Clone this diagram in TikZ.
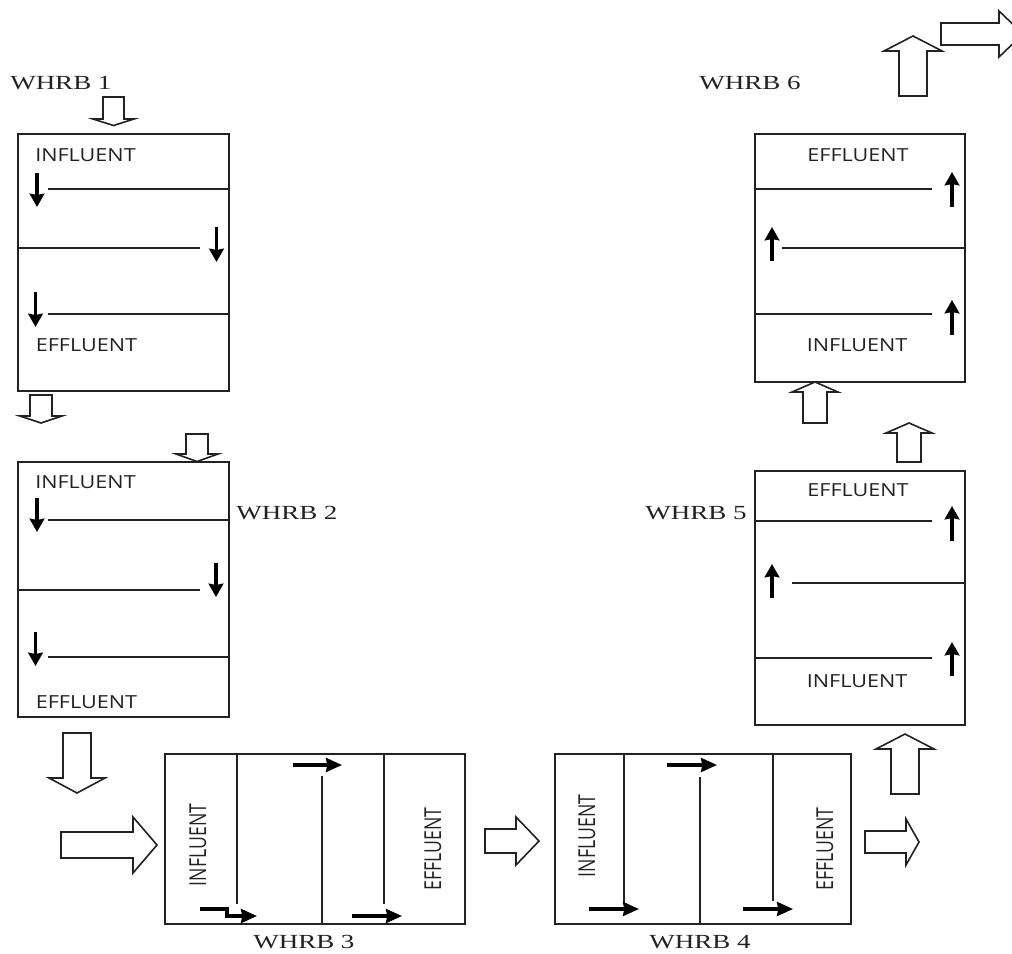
\documentclass[tikz,border=0pt]{standalone}
\usepackage{fontspec}
\setmainfont{Liberation Serif}
\newfontfamily\labfont[FakeStretch=1.2]{Open Sans}
\newfontfamily\rotfont[FakeStretch=0.76]{Open Sans}
\newfontfamily\whrbfont[FakeStretch=1.35]{Liberation Serif}
\usetikzlibrary{arrows.meta}
\definecolor{ink}{HTML}{222222}
\tikzset{
  x=0.75pt,y=-0.75pt,
  wall/.style={draw=ink,line width=1.2pt},
  baffle/.style={draw=ink,line width=1.2pt},
  flowv/.style={draw=black,line width=2.6pt,-{Stealth[length=10pt,width=11pt,inset=1pt]}},
  flowh/.style={draw=black,line width=2.4pt,-{Stealth[length=12pt,width=10.5pt,inset=1pt]}},
  block/.style={draw=ink,line width=1.2pt,fill=white,line join=miter},
  lab/.style={font=\labfont\fontsize{13.5}{15}\selectfont,text=ink,inner sep=0pt},
  rotlab/.style={font=\rotfont\fontsize{17.5}{19}\selectfont,text=ink,inner sep=0pt,rotate=90},
  whrb/.style={font=\whrbfont\fontsize{15}{17}\selectfont,text=ink,inner sep=0pt},
}
% down block arrow: xc, top, shoulder, tip, shaft half, head half
\newcommand{\dnblock}[6]{\draw[block] ({#1-#5},#2) -- ({#1+#5},#2) -- ({#1+#5},#3) -- ({#1+#6},#3) -- (#1,#4) -- ({#1-#6},#3) -- ({#1-#5},#3) -- cycle;}
% right block arrow: yc, left, shoulder, tip, shaft half, head half
\newcommand{\rtblock}[6]{\draw[block] (#2,{#1-#5}) -- (#3,{#1-#5}) -- (#3,{#1-#6}) -- (#4,#1) -- (#3,{#1+#6}) -- (#3,{#1+#5}) -- (#2,{#1+#5}) -- cycle;}
\begin{document}
\begin{tikzpicture}
\useasboundingbox (0,0) rectangle (1012,953);
\clip (0,0) rectangle (1012,953);
\fill[white] (0,0) rectangle (1012,953);

% WHRB 1
\draw[wall] (18,134) rectangle (229,391);
\draw[baffle] (48,189) -- (229,189);
\draw[baffle] (18,248) -- (200,248);
\draw[baffle] (48,314) -- (229,314);
\draw[flowv] (37,173) -- (37,207);
\draw[flowv] (216.5,227) -- (216.5,262);
\draw[flowv] (35.5,292) -- (35.5,327);
\node[lab,anchor=west] (t1a) at (35,155) {INFLUENT};
\node[lab,anchor=west] (t1b) at (35.5,345) {EFFLUENT};
\node[whrb,anchor=west] (w1) at (10,83) {WHRB 1};
\dnblock{113.5}{97}{119}{125.5}{10.5}{20.5}
\dnblock{41}{395}{416}{423}{11}{21}
\dnblock{197}{434}{454}{461.5}{11}{21}

% WHRB 2
\draw[wall] (18,462) rectangle (229,717);
\draw[baffle] (48,520) -- (229,520);
\draw[baffle] (18,590) -- (200,590);
\draw[baffle] (48,657) -- (229,657);
\draw[flowv] (37,498) -- (37,532);
\draw[flowv] (216,563) -- (216,597);
\draw[flowv] (35.5,632) -- (35.5,666);
\node[lab,anchor=west] (t2a) at (35,482) {INFLUENT};
\node[lab,anchor=west] (t2b) at (35.5,702) {EFFLUENT};
\node[whrb,anchor=west] (w2) at (236,513) {WHRB 2};
\dnblock{77}{733}{778}{793}{14}{28}
\rtblock{845}{61}{133}{157}{13}{28}

% WHRB 3
\draw[wall] (165,754) rectangle (465,924);
\draw[baffle] (237,754) -- (237,904);
\draw[baffle] (322,776) -- (322,924);
\draw[baffle] (384,754) -- (384,904);
\draw[flowh] (293,765) -- (342,765);
\draw[flowh] (200,909) -- (227,909) -- (227,916) -- (257,916);
\draw[flowh] (352,916) -- (402,916);
\node[rotlab] (t3a) at (198,845) {INFLUENT};
\node[rotlab] (t3b) at (433,849) {EFFLUENT};
\node[whrb,anchor=west] (w3) at (253,942) {WHRB 3};
\rtblock{841}{485}{516}{539}{12}{24}

% WHRB 4
\draw[wall] (555,754) rectangle (851,924);
\draw[baffle] (624,754) -- (624,903);
\draw[baffle] (700,777) -- (700,924);
\draw[baffle] (773,754) -- (773,901);
\draw[flowh] (667,765) -- (717,765);
\draw[flowh] (589,909) -- (639,909);
\draw[flowh] (743,909) -- (793,909);
\node[rotlab] (t4a) at (587,836) {INFLUENT};
\node[rotlab] (t4b) at (825,849) {EFFLUENT};
\node[whrb,anchor=west] (w4) at (649,942) {WHRB 4};
\rtblock{842}{865}{906}{919}{11}{23}
\dnblock{905}{794}{749}{734}{14}{29}

% WHRB 5
\draw[wall] (755,471) rectangle (965,725);
\draw[baffle] (755,521) -- (932,521);
\draw[baffle] (792,583) -- (965,583);
\draw[baffle] (755,658) -- (932,658);
\draw[flowv] (952,541) -- (952,506);
\draw[flowv] (772,598) -- (772,564);
\draw[flowv] (952,676) -- (952,642);
\node[lab] (t5a) at (858,490) {EFFLUENT};
\node[lab] (t5b) at (857,681) {INFLUENT};
\node[whrb,anchor=west] (w5) at (645,513) {WHRB 5};
\dnblock{909}{462}{433}{423}{12}{23}
\dnblock{815}{423}{392}{382}{12}{23}

% WHRB 6
\draw[wall] (755,134) rectangle (965,382);
\draw[baffle] (755,189) -- (932,189);
\draw[baffle] (782,248) -- (965,248);
\draw[baffle] (755,314) -- (932,314);
\draw[flowv] (952,207) -- (952,172);
\draw[flowv] (772,261) -- (772,227);
\draw[flowv] (952,335) -- (952,300);
\node[lab] (t6a) at (858,155) {EFFLUENT};
\node[lab] (t6b) at (857,345) {INFLUENT};
\node[whrb,anchor=west] (w6) at (699,83) {WHRB 6};
\dnblock{913}{96}{51}{36}{14}{29}
\rtblock{34}{941}{999}{1023}{11}{23}
\end{tikzpicture}
\end{document}
